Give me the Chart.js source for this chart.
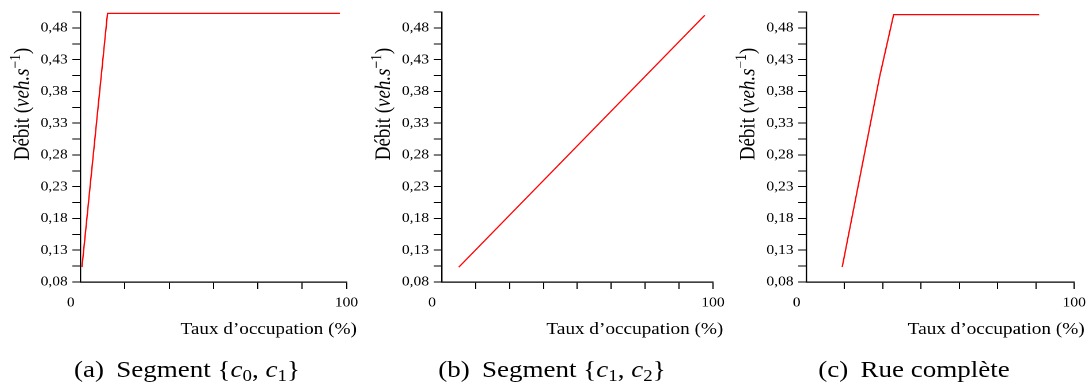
<!DOCTYPE html>
<html><head><meta charset="utf-8">
<script src="https://cdn.jsdelivr.net/npm/chart.js@4/dist/chart.umd.min.js"></script>
<style>
html,body{margin:0;padding:0;background:#fff;width:1087px;height:392px;overflow:hidden;}
#stage{position:absolute;left:0;top:0;width:945.22px;height:392px;transform:scaleX(1.15);transform-origin:0 0;}
.panel{position:absolute;top:0;height:392px;}
.cap{position:absolute;font-family:"Liberation Serif","Times New Roman",serif;font-size:23.5px;line-height:1;white-space:nowrap;transform:translateX(-50%);color:#000;}
.cap i{font-style:italic;}
.cap sub{font-size:0.7em;vertical-align:-0.22em;line-height:0;}
.cap .g{display:inline-block;width:0.2em;}
</style></head><body>
<div id="stage">
  <div class="panel" id="pa"><canvas id="ca"></canvas></div>
  <div class="panel" id="pb"><canvas id="cb"></canvas></div>
  <div class="panel" id="pc"><canvas id="cc"></canvas></div>
  <div class="cap" id="capA">(a)<span class="g"></span> Segment {<i>c</i><sub>0</sub>, <i>c</i><sub>1</sub>}</div>
  <div class="cap" id="capB">(b)<span class="g"></span> Segment {<i>c</i><sub>1</sub>, <i>c</i><sub>2</sub>}</div>
  <div class="cap" id="capC">(c)<span class="g"></span> Rue complète</div>
</div>
<script>
// ---------- data ----------
const occA  = [0.6, 10.2, 97.5];
const flowA = [0.1035, 0.503, 0.503];
const occB  = [6.3, 97.0];
const flowB = [0.1035, 0.500];
const occC  = [13.4, 27.4, 32.6, 86.9];
const flowC = [0.1035, 0.404, 0.501, 0.501];

const yMajorTicks = [0.08, 0.13, 0.18, 0.23, 0.28, 0.33, 0.38, 0.43, 0.48];
const yMinorTicks = [0.105, 0.155, 0.205, 0.255, 0.305, 0.355, 0.405, 0.455, 0.505];
const xDivisionsA = 6, xDivisionsB = 8, xDivisionsC = 7;
const xTickLabelFirst = '0', xTickLabelLast = '100';
const xAxisTitle = 'Taux d’occupation (%)';
const yTitleText = ['Débit (', 'veh.s', '−1', ')'];

// ---------- layout (unstretched px) ----------
const S = 1.15;
const FONT = '"Liberation Serif","Times New Roman",serif';
const layoutPanels = [
  {wrap:'pa', canvas:'ca', cap:'capA', left:69.57, right:303.48, capX:162.6, occ:occA, flow:flowA, div:xDivisionsA},
  {wrap:'pb', canvas:'cb', cap:'capB', left:384.09, right:621.74, capX:480.0, occ:occB, flow:flowB, div:xDivisionsB},
  {wrap:'pc', canvas:'cc', cap:'capC', left:700.87, right:935.65, capX:794.8, occ:occC, flow:flowC, div:xDivisionsC}
];
const PADL = 70, PADR = 14, YAXW = 40;
const CAP_TOP = 358;

const axisTitlePlugin = {
  id: 'axisTitles',
  afterDraw(chart) {
    const ctx = chart.ctx, a = chart.chartArea;
    ctx.save();
    ctx.fillStyle = '#000';
    ctx.font = '16.7px ' + FONT;
    ctx.textAlign = 'right';
    ctx.textBaseline = 'alphabetic';
    ctx.fillText(xAxisTitle, a.right + 9, 334);
    const parts = [
      {t: yTitleText[0], f: '19px ' + FONT, dy: 0},
      {t: yTitleText[1], f: 'italic 19px ' + FONT, dy: 0},
      {t: yTitleText[2], f: '13.5px ' + FONT, dy: -7.5},
      {t: yTitleText[3], f: '19px ' + FONT, dy: 0}
    ];
    let total = 0;
    parts.forEach(p => { ctx.font = p.f; p.w = ctx.measureText(p.t).width; total += p.w; });
    ctx.translate(a.left - 51, 104);
    ctx.rotate(-Math.PI / 2);
    ctx.textAlign = 'left';
    let x = -total / 2;
    parts.forEach(p => { ctx.font = p.f; ctx.fillText(p.t, x, 6.2 + p.dy); x += p.w; });
    ctx.restore();
  }
};

const allY = yMajorTicks.concat(yMinorTicks).sort((p, q) => p - q);

function makeChart(p) {
  const w = document.getElementById(p.wrap);
  w.style.left = (p.left - PADL) + 'px';
  w.style.width = (p.right - p.left + PADL + PADR) + 'px';
  const cap = document.getElementById(p.cap);
  cap.style.left = p.capX + 'px';
  cap.style.top = CAP_TOP + 'px';
  const pts = p.occ.map((x, i) => ({x: x, y: p.flow[i]}));
  return new Chart(document.getElementById(p.canvas), {
    type: 'line',
    data: {datasets: [{data: pts, borderColor: '#ff0000', borderWidth: 1.2, pointRadius: 0, fill: false, tension: 0}]},
    options: {
      responsive: true, maintainAspectRatio: false, animation: false, devicePixelRatio: 2,
      events: [],
      layout: {padding: {left: PADL - YAXW, right: PADR, top: 10, bottom: 0}},
      plugins: {legend: {display: false}, tooltip: {enabled: false}, title: {display: false}},
      scales: {
        x: {
          type: 'linear', min: 0, max: 100,
          afterFit: s => { s.height = 392 - 282; },
          afterBuildTicks: s => { s.ticks = Array.from({length: p.div + 1}, (_, i) => ({value: 100 * i / p.div})); },
          ticks: {
            autoSkip: false, maxRotation: 0, minRotation: 0, padding: 6, color: '#000',
            font: {family: FONT, size: 13.5},
            callback: (v, i, t) => i === 0 ? xTickLabelFirst + '     ' : (i === t.length - 1 ? xTickLabelLast : '')
          },
          grid: {drawOnChartArea: false, drawTicks: true, tickLength: 7, tickWidth: 1,
                 tickColor: c => c.index === 0 ? 'rgba(0,0,0,0)' : '#000'},
          border: {display: true, color: '#000', width: 1.2}
        },
        y: {
          type: 'linear', min: 0.08, max: 0.505,
          afterFit: s => { s.width = YAXW; },
          afterBuildTicks: s => { s.ticks = allY.map(v => ({value: v})); },
          ticks: {
            autoSkip: false, padding: 4, color: '#000',
            font: {family: FONT, size: 13.5},
            callback: v => yMajorTicks.some(m => Math.abs(m - v) < 1e-6) ? v.toFixed(2).replace('.', ',') : ''
          },
          grid: {drawOnChartArea: false, drawTicks: true, tickLength: 7, tickWidth: 1, tickColor: '#000'},
          border: {display: true, color: '#000', width: 1.2}
        }
      }
    },
    plugins: [axisTitlePlugin]
  });
}
layoutPanels.forEach(makeChart);
</script>
</body></html>
